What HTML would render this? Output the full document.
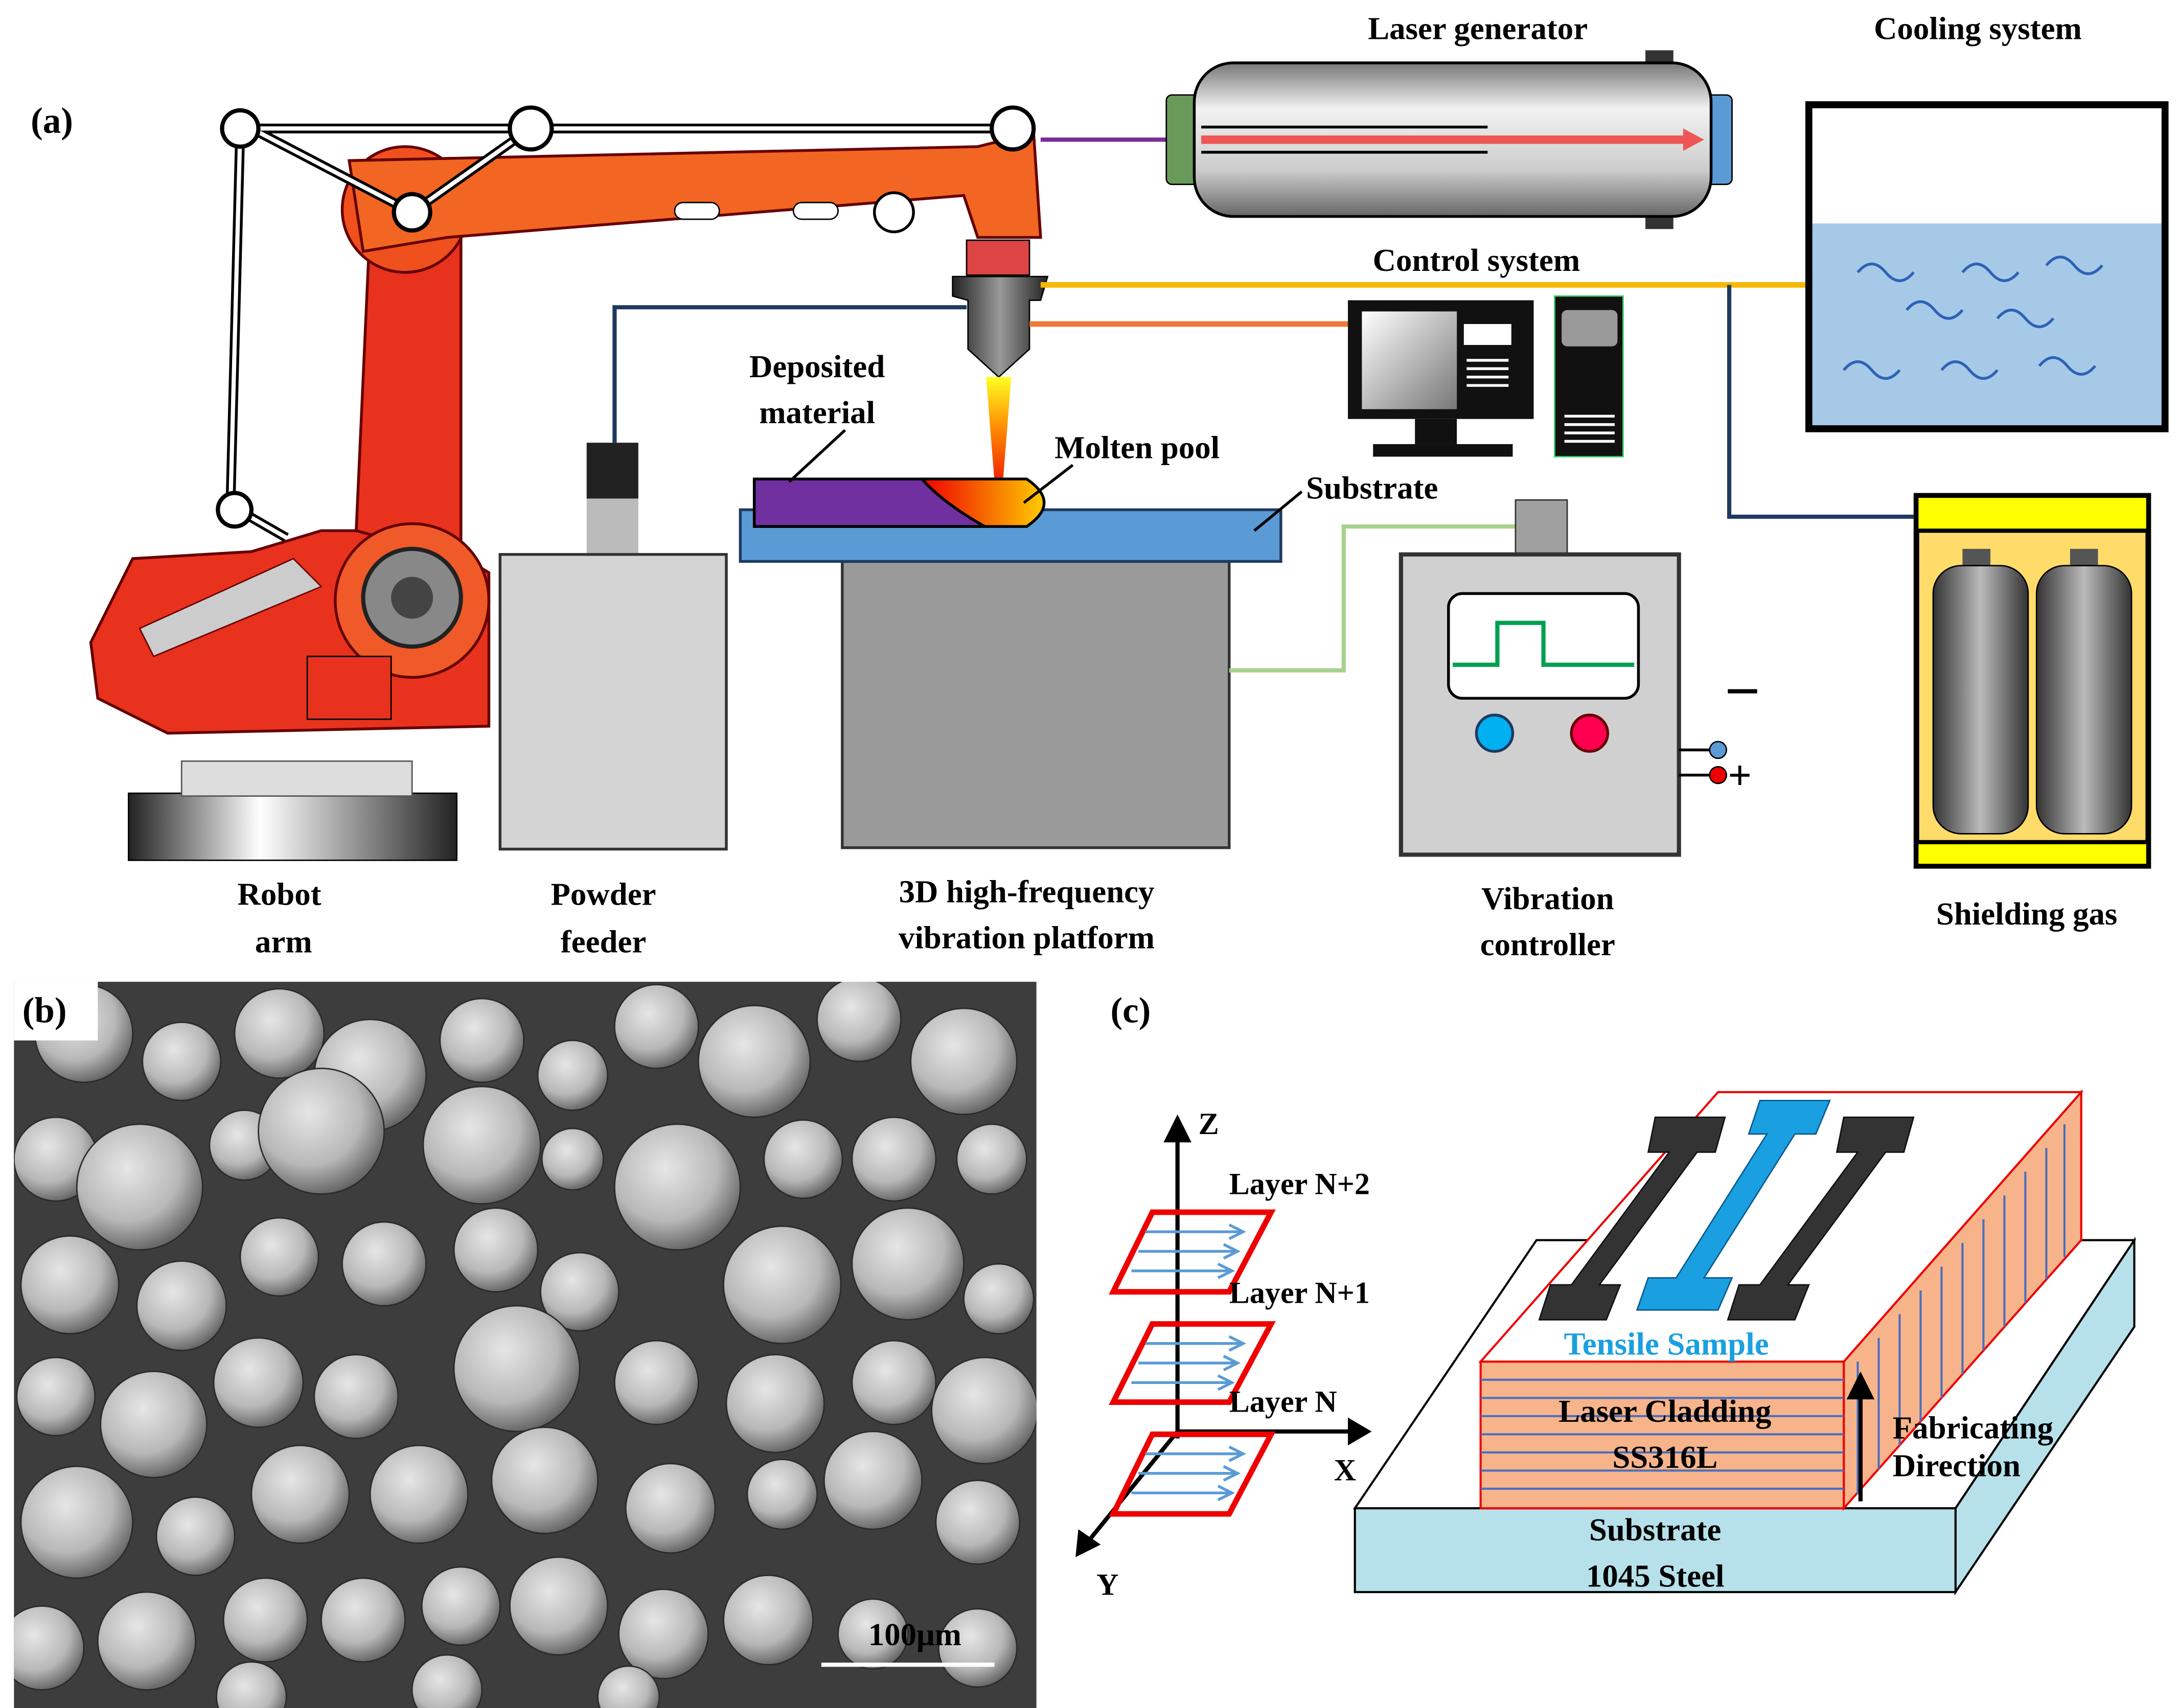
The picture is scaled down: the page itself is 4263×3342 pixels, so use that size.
<!DOCTYPE html>
<html><head><meta charset="utf-8"><style>html,body{margin:0;padding:0;background:#fff}svg{display:block}text{font-family:"Liberation Serif",serif;font-weight:bold;fill:#000}</style></head>
<body>
<svg width="4263" height="3342" viewBox="0 0 1560 1223" preserveAspectRatio="none" xmlns="http://www.w3.org/2000/svg">
<defs>
<clipPath id="semclip"><rect x="10" y="703" width="732" height="520"/></clipPath>
<linearGradient id="cyl" x1="0" y1="0" x2="0" y2="1"><stop offset="0" stop-color="#777"/><stop offset=".3" stop-color="#f2f2f2"/><stop offset=".7" stop-color="#ccc"/><stop offset="1" stop-color="#666"/></linearGradient>
<linearGradient id="gas" x1="0" y1="0" x2="1" y2="0"><stop offset="0" stop-color="#333"/><stop offset=".5" stop-color="#bbb"/><stop offset="1" stop-color="#333"/></linearGradient>
<linearGradient id="noz" x1="0" y1="0" x2="1" y2="0"><stop offset="0" stop-color="#222"/><stop offset=".5" stop-color="#999"/><stop offset="1" stop-color="#222"/></linearGradient>
<linearGradient id="flame" x1="0" y1="0" x2="0" y2="1"><stop offset="0" stop-color="#ff2"/><stop offset=".5" stop-color="#f80"/><stop offset="1" stop-color="#e20"/></linearGradient>
<linearGradient id="pool" x1="0" y1="0" x2="1" y2="0"><stop offset="0" stop-color="#e00"/><stop offset="1" stop-color="#fc0"/></linearGradient>
<linearGradient id="base" x1="0" y1="0" x2="1" y2="0"><stop offset="0" stop-color="#222"/><stop offset=".4" stop-color="#fff"/><stop offset="1" stop-color="#222"/></linearGradient>
<linearGradient id="mon" x1="0" y1="0" x2="1" y2="1"><stop offset="0" stop-color="#fff"/><stop offset="1" stop-color="#777"/></linearGradient>
<radialGradient id="ball" cx=".4" cy=".35" r=".7"><stop offset="0" stop-color="#e6e6e6"/><stop offset=".6" stop-color="#b8b8b8"/><stop offset="1" stop-color="#5a5a5a"/></radialGradient>
</defs>

<text x="22" y="95" font-size="26">(a)</text>

<!-- robot arm -->
<rect x="92" y="568" width="235" height="48" fill="url(#base)" stroke="#000"/>
<rect x="130" y="545" width="165" height="25" fill="#ddd" stroke="#555"/>
<path d="M65 460 L95 400 L180 395 L230 380 L300 380 L350 410 L350 520 L120 525 L70 500 Z" fill="#e8321e" stroke="#600" stroke-width="2"/>
<path d="M255 380 L265 160 L330 160 L330 400 Z" fill="#e8321e" stroke="#600" stroke-width="2"/>
<circle cx="290" cy="150" r="45" fill="#f0501e" stroke="#600" stroke-width="2"/>
<path d="M250 115 L700 105 L740 95 L745 170 L700 170 L690 140 L320 170 L260 180 Z" fill="#f26522" stroke="#600" stroke-width="2"/>
<rect x="483" y="145" width="32" height="12" rx="6" fill="#fff" stroke="#000"/>
<rect x="568" y="145" width="32" height="12" rx="6" fill="#fff" stroke="#000"/>
<circle cx="640" cy="152" r="14" fill="#fff" stroke="#000" stroke-width="2"/>
<circle cx="295" cy="430" r="55" fill="#f05a28" stroke="#600" stroke-width="2"/>
<circle cx="295" cy="428" r="35" fill="#888" stroke="#222" stroke-width="3"/>
<circle cx="295" cy="428" r="15" fill="#444"/>
<rect x="220" y="470" width="60" height="45" fill="#e8321e" stroke="#000"/>
<path d="M100 450 L210 400 L230 420 L110 470 Z" fill="#ccc" stroke="#600"/>
<g fill="none" stroke="#000" stroke-width="7"><path d="M172 92 L165 362 L205 385 M172 92 L380 92 L720 92 M180 92 L295 152 L380 92"/></g>
<g fill="none" stroke="#fff" stroke-width="3"><path d="M172 92 L165 362 L205 385 M172 92 L380 92 L720 92 M180 92 L295 152 L380 92"/></g>
<g fill="#fff" stroke="#000" stroke-width="3"><circle cx="172" cy="92" r="13"/><circle cx="380" cy="92" r="15"/><circle cx="725" cy="92" r="15"/><circle cx="295" cy="152" r="13"/><circle cx="168" cy="365" r="12"/></g>
<text x="200" y="648" font-size="23" text-anchor="middle">Robot</text>
<text x="203" y="682" font-size="23" text-anchor="middle">arm</text>

<line x1="745" y1="100" x2="838" y2="100" stroke="#7a2a9a" stroke-width="3"/>
<rect x="692" y="172" width="45" height="25" fill="#d44" stroke="#000"/>
<path d="M682 198 L750 198 L745 215 L737 215 L737 250 L715 270 L693 250 L693 215 L682 212 Z" fill="url(#noz)" stroke="#000"/>
<path d="M706 270 L724 270 L718 345 L712 345 Z" fill="url(#flame)"/>
<polyline points="745,204 1293,204" stroke="#f5b800" stroke-width="4" fill="none"/>
<line x1="737" y1="232" x2="965" y2="232" stroke="#ee7a3a" stroke-width="4"/>
<polyline points="1238,204 1238,370 1370,370" stroke="#1f3a60" stroke-width="3" fill="none"/>
<polyline points="440,317 440,220 692,220" stroke="#1f3a60" stroke-width="3" fill="none"/>

<rect x="835" y="68" width="25" height="64" rx="4" fill="#6a9a5a" stroke="#000"/>
<rect x="1218" y="68" width="22" height="64" rx="4" fill="#5b9bd5" stroke="#000"/>
<rect x="1178" y="36" width="20" height="12" fill="#333"/>
<rect x="1178" y="152" width="20" height="12" fill="#333"/>
<rect x="855" y="45" width="370" height="110" rx="28" fill="url(#cyl)" stroke="#000" stroke-width="2"/>
<line x1="860" y1="100" x2="1210" y2="100" stroke="#ee5555" stroke-width="6"/>
<path d="M1205 92 L1220 100 L1205 108 Z" fill="#ee5555"/>
<line x1="860" y1="91" x2="1065" y2="91" stroke="#000" stroke-width="2"/>
<line x1="860" y1="109" x2="1065" y2="109" stroke="#000" stroke-width="2"/>
<text x="1058" y="28" font-size="23" text-anchor="middle">Laser generator</text>

<text x="1416" y="28" font-size="23" text-anchor="middle">Cooling system</text>
<rect x="1295" y="160" width="255" height="147" fill="#a7c9e8"/>
<rect x="1295" y="75" width="255" height="232" fill="none" stroke="#000" stroke-width="5"/>
<g fill="none" stroke="#2c63b5" stroke-width="2">
<path d="M1330 195 q10 -12 20 0 t20 0"/><path d="M1405 195 q10 -12 20 0 t20 0"/><path d="M1465 190 q10 -12 20 0 t20 0"/>
<path d="M1365 222 q10 -12 20 0 t20 0"/><path d="M1430 228 q10 -12 20 0 t20 0"/>
<path d="M1320 265 q10 -12 20 0 t20 0"/><path d="M1390 265 q10 -12 20 0 t20 0"/><path d="M1460 262 q10 -12 20 0 t20 0"/>
</g>

<text x="1057" y="194" font-size="23" text-anchor="middle">Control system</text>
<rect x="965" y="215" width="133" height="85" fill="#111"/>
<rect x="975" y="223" width="68" height="70" fill="url(#mon)"/>
<rect x="1048" y="232" width="34" height="15" fill="#fff"/>
<g stroke="#fff" stroke-width="2"><line x1="1050" y1="258" x2="1080" y2="258"/><line x1="1050" y1="264" x2="1080" y2="264"/><line x1="1050" y1="270" x2="1080" y2="270"/><line x1="1050" y1="276" x2="1080" y2="276"/></g>
<rect x="1013" y="300" width="30" height="18" fill="#111"/>
<rect x="983" y="318" width="100" height="9" fill="#111"/>
<rect x="1113" y="212" width="49" height="115" fill="#111" stroke="#3c6" stroke-width="1"/>
<rect x="1118" y="222" width="40" height="26" rx="4" fill="#999"/>
<g stroke="#fff" stroke-width="2"><line x1="1120" y1="298" x2="1156" y2="298"/><line x1="1120" y1="304" x2="1156" y2="304"/><line x1="1120" y1="310" x2="1156" y2="310"/><line x1="1120" y1="316" x2="1156" y2="316"/></g>

<rect x="1372" y="355" width="166" height="265" fill="#ffdc6a" stroke="#000" stroke-width="4"/>
<rect x="1372" y="355" width="166" height="25" fill="#ff0" stroke="#000" stroke-width="3"/>
<rect x="1372" y="603" width="166" height="17" fill="#ff0" stroke="#000" stroke-width="3"/>
<rect x="1405" y="393" width="20" height="15" fill="#555"/><rect x="1482" y="393" width="20" height="15" fill="#555"/>
<rect x="1384" y="405" width="68" height="192" rx="20" fill="url(#gas)" stroke="#000"/>
<rect x="1458" y="405" width="68" height="192" rx="20" fill="url(#gas)" stroke="#000"/>
<text x="1451" y="662" font-size="23" text-anchor="middle">Shielding gas</text>

<rect x="420" y="317" width="37" height="40" fill="#222"/>
<rect x="420" y="357" width="37" height="40" fill="#bbb"/>
<rect x="358" y="397" width="162" height="211" fill="#d4d4d4" stroke="#333" stroke-width="2"/>
<text x="432" y="648" font-size="23" text-anchor="middle">Powder</text>
<text x="432" y="682" font-size="23" text-anchor="middle">feeder</text>

<rect x="603" y="402" width="277" height="205" fill="#9a9a9a" stroke="#333" stroke-width="2"/>
<rect x="530" y="365" width="387" height="37" fill="#5b9bd5" stroke="#1f3a60" stroke-width="2"/>
<rect x="540" y="343" width="165" height="34" fill="#7030a0" stroke="#000" stroke-width="2"/>
<path d="M660 343 L735 343 Q760 360 735 377 L705 377 Q675 360 660 343 Z" fill="url(#pool)" stroke="#000" stroke-width="2"/>
<text x="585" y="270" font-size="23" text-anchor="middle">Deposited</text>
<text x="585" y="303" font-size="23" text-anchor="middle">material</text>
<line x1="605" y1="308" x2="565" y2="345" stroke="#000" stroke-width="2"/>
<text x="755" y="328" font-size="23">Molten pool</text>
<line x1="768" y1="333" x2="733" y2="360" stroke="#000" stroke-width="2"/>
<text x="935" y="357" font-size="23">Substrate</text>
<line x1="932" y1="352" x2="898" y2="380" stroke="#000" stroke-width="2"/>
<text x="735" y="646" font-size="23" text-anchor="middle">3D high-frequency</text>
<text x="735" y="679" font-size="23" text-anchor="middle">vibration platform</text>

<polyline points="880,480 962,480 962,377 1085,377" fill="none" stroke="#a9d18e" stroke-width="3"/>
<rect x="1085" y="358" width="37" height="39" fill="#a0a0a0" stroke="#333"/>
<rect x="1003" y="397" width="199" height="215" fill="#d0d0d0" stroke="#333" stroke-width="3"/>
<rect x="1037" y="425" width="136" height="75" rx="10" fill="#fff" stroke="#000" stroke-width="2"/>
<polyline points="1040,476 1072,476 1072,446 1105,446 1105,476 1170,476" fill="none" stroke="#00a050" stroke-width="3"/>
<circle cx="1070" cy="525" r="13" fill="#00b0f0" stroke="#1f3a60" stroke-width="2"/>
<circle cx="1138" cy="525" r="13" fill="#ff0050" stroke="#600" stroke-width="2"/>
<line x1="1202" y1="537" x2="1225" y2="537" stroke="#000" stroke-width="2"/>
<line x1="1202" y1="555" x2="1225" y2="555" stroke="#000" stroke-width="2"/>
<circle cx="1230" cy="537" r="6" fill="#5b9bd5" stroke="#000"/>
<circle cx="1230" cy="555" r="6" fill="#e00" stroke="#000"/>
<line x1="1237" y1="495" x2="1258" y2="495" stroke="#000" stroke-width="3"/>
<text x="1237" y="565" font-size="30" font-weight="normal">+</text>
<text x="1108" y="651" font-size="23" text-anchor="middle">Vibration</text>
<text x="1108" y="684" font-size="23" text-anchor="middle">controller</text>

<!-- (b) SEM -->
<rect x="10" y="703" width="732" height="520" fill="#3d3d3d"/>
<g fill="url(#ball)" stroke="#2a2a2a" stroke-width="1" clip-path="url(#semclip)">
<circle cx="60" cy="740" r="35"/><circle cx="130" cy="760" r="28"/><circle cx="200" cy="740" r="32"/><circle cx="265" cy="770" r="40"/><circle cx="345" cy="745" r="30"/><circle cx="410" cy="770" r="25"/><circle cx="470" cy="735" r="30"/><circle cx="540" cy="760" r="40"/><circle cx="615" cy="730" r="30"/><circle cx="690" cy="760" r="38"/>
<circle cx="40" cy="830" r="30"/><circle cx="100" cy="850" r="45"/><circle cx="175" cy="820" r="25"/><circle cx="230" cy="810" r="45"/><circle cx="345" cy="820" r="42"/><circle cx="410" cy="830" r="22"/><circle cx="485" cy="850" r="45"/><circle cx="575" cy="830" r="28"/><circle cx="640" cy="830" r="30"/><circle cx="710" cy="830" r="25"/>
<circle cx="50" cy="920" r="35"/><circle cx="130" cy="935" r="32"/><circle cx="200" cy="900" r="28"/><circle cx="275" cy="905" r="30"/><circle cx="355" cy="895" r="30"/><circle cx="415" cy="925" r="28"/><circle cx="560" cy="920" r="42"/><circle cx="650" cy="905" r="40"/><circle cx="715" cy="930" r="25"/>
<circle cx="40" cy="1000" r="28"/><circle cx="110" cy="1020" r="38"/><circle cx="185" cy="990" r="32"/><circle cx="255" cy="1000" r="30"/><circle cx="370" cy="980" r="45"/><circle cx="470" cy="990" r="30"/><circle cx="555" cy="1005" r="35"/><circle cx="640" cy="990" r="30"/><circle cx="705" cy="1010" r="38"/>
<circle cx="55" cy="1090" r="40"/><circle cx="140" cy="1100" r="28"/><circle cx="215" cy="1070" r="35"/><circle cx="300" cy="1070" r="35"/><circle cx="390" cy="1060" r="38"/><circle cx="480" cy="1080" r="32"/><circle cx="560" cy="1070" r="25"/><circle cx="625" cy="1060" r="35"/><circle cx="700" cy="1090" r="30"/>
<circle cx="30" cy="1180" r="30"/><circle cx="105" cy="1175" r="35"/><circle cx="190" cy="1160" r="30"/><circle cx="260" cy="1160" r="30"/><circle cx="330" cy="1150" r="28"/><circle cx="400" cy="1150" r="35"/><circle cx="475" cy="1170" r="32"/><circle cx="550" cy="1160" r="32"/><circle cx="625" cy="1170" r="25"/><circle cx="700" cy="1180" r="28"/>
<circle cx="180" cy="1215" r="25"/><circle cx="320" cy="1210" r="25"/><circle cx="450" cy="1215" r="22"/>
</g>
<rect x="10" y="703" width="60" height="42" fill="#fff"/>
<text x="16" y="732" font-size="26">(b)</text>
<text x="655" y="1178" font-size="23" text-anchor="middle">100μm</text>
<line x1="588" y1="1192" x2="712" y2="1192" stroke="#fff" stroke-width="3"/>

<!-- (c) -->
<text x="795" y="732" font-size="26">(c)</text>
<g stroke="#000" stroke-width="3" fill="none">
<line x1="843" y1="1030" x2="843" y2="812"/>
<line x1="843" y1="1025" x2="970" y2="1025"/>
<line x1="843" y1="1025" x2="778" y2="1105"/>
</g>
<path d="M833 818 L843 798 L853 818 Z"/><path d="M965 1015 L982 1025 L965 1035 Z"/><path d="M772 1095 L770 1115 L788 1106 Z"/>
<text x="858" y="812" font-size="22" font-weight="normal">Z</text>
<text x="955" y="1060" font-size="22" font-weight="normal">X</text>
<text x="785" y="1142" font-size="22" font-weight="normal">Y</text>
<g fill="none" stroke="#e00" stroke-width="4">
<path d="M825 868 L910 868 L880 925 L797 925 Z"/>
<path d="M825 948 L910 948 L880 1004 L797 1004 Z"/>
<path d="M825 1027 L910 1027 L880 1084 L797 1084 Z"/>
</g>
<g stroke="#5b9bd5" stroke-width="2" fill="none">
<path d="M820 882 L888 882 M880 877 L890 882 L880 887 M815 896 L884 896 M876 891 L886 896 L876 901 M810 910 L880 910 M872 905 L882 910 L872 915"/>
<path d="M820 962 L888 962 M880 957 L890 962 L880 967 M815 976 L884 976 M876 971 L886 976 L876 981 M810 990 L880 990 M872 985 L882 990 L872 995"/>
<path d="M820 1041 L888 1041 M880 1036 L890 1041 L880 1046 M815 1055 L884 1055 M876 1050 L886 1055 L876 1060 M810 1069 L880 1069 M872 1064 L882 1069 L872 1074"/>
</g>
<text x="880" y="855" font-size="22">Layer N+2</text>
<text x="880" y="933" font-size="22">Layer N+1</text>
<text x="880" y="1011" font-size="22">Layer N</text>

<polygon points="970,1080 1400,1080 1528,888 1100,888" fill="#fff" stroke="#000" stroke-width="1.5"/>
<polygon points="1400,1080 1528,888 1528,950 1400,1140" fill="#b7e1ea" stroke="#000" stroke-width="1.5"/>
<rect x="970" y="1080" width="430" height="60" fill="#b7e1ea" stroke="#000" stroke-width="1.5"/>
<text x="1185" y="1103" font-size="23" text-anchor="middle">Substrate</text>
<text x="1185" y="1136" font-size="23" text-anchor="middle">1045 Steel</text>

<polygon points="1320,975 1490,782 1490,888 1320,1080" fill="#f7b48a" stroke="#e00" stroke-width="1.5"/>
<g stroke="#4a6ec0" stroke-width="1.5">
<line x1="1330" y1="975" x2="1330" y2="1070"/><line x1="1345" y1="958" x2="1345" y2="1052"/><line x1="1360" y1="941" x2="1360" y2="1035"/><line x1="1375" y1="924" x2="1375" y2="1018"/><line x1="1390" y1="907" x2="1390" y2="1001"/><line x1="1405" y1="890" x2="1405" y2="984"/><line x1="1420" y1="873" x2="1420" y2="967"/><line x1="1435" y1="856" x2="1435" y2="950"/><line x1="1450" y1="839" x2="1450" y2="933"/><line x1="1465" y1="822" x2="1465" y2="916"/><line x1="1478" y1="805" x2="1478" y2="900"/>
</g>
<polygon points="1060,975 1320,975 1490,782 1230,782" fill="#fff" stroke="#e00" stroke-width="1.5"/>
<rect x="1060" y="975" width="260" height="105" fill="#f7b48a" stroke="#e00" stroke-width="1.5"/>
<g stroke="#4a6ec0" stroke-width="1.5">
<line x1="1060" y1="988" x2="1320" y2="988"/><line x1="1060" y1="1001" x2="1320" y2="1001"/><line x1="1060" y1="1014" x2="1320" y2="1014"/><line x1="1060" y1="1027" x2="1320" y2="1027"/><line x1="1060" y1="1040" x2="1320" y2="1040"/><line x1="1060" y1="1053" x2="1320" y2="1053"/><line x1="1060" y1="1066" x2="1320" y2="1066"/>
</g>
<g fill="#333" stroke="#111">
<polygon points="1185,800 1235,800 1228,825 1215,825 1145,920 1160,920 1150,945 1102,945 1110,920 1125,920 1195,825 1180,825"/>
<polygon points="1320,800 1370,800 1363,825 1350,825 1280,920 1295,920 1285,945 1237,945 1245,920 1260,920 1330,825 1315,825"/>
</g>
<g fill="#1aa0e0" stroke="#0a5a90">
<polygon points="1260,788 1310,788 1300,812 1285,812 1220,915 1240,915 1230,938 1172,938 1180,915 1200,915 1265,812 1252,812"/>
</g>
<text x="1193" y="970" font-size="23" text-anchor="middle" style="fill:#1aa0e0">Tensile Sample</text>
<text x="1192" y="1018" font-size="23" text-anchor="middle">Laser Cladding</text>
<text x="1192" y="1051" font-size="23" text-anchor="middle">SS316L</text>
<line x1="1332" y1="1075" x2="1332" y2="1000" stroke="#000" stroke-width="3"/>
<path d="M1322 1002 L1332 982 L1342 1002 Z"/>
<text x="1355" y="1030" font-size="23">Fabricating</text>
<text x="1355" y="1057" font-size="23">Direction</text>
</svg>
</body></html>
